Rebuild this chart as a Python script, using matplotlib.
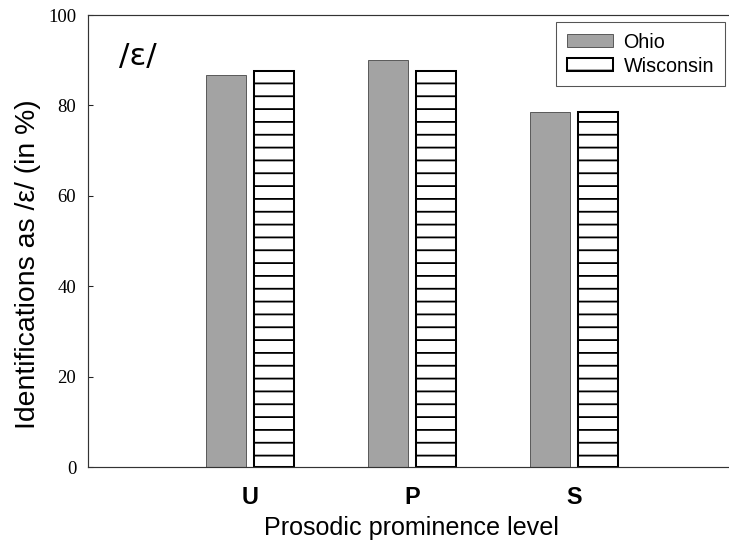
import matplotlib
matplotlib.use('Agg')
import matplotlib.pyplot as plt
import numpy as np

categories = ['U', 'P', 'S']
ohio = [86.8, 90.1, 78.6]
wisconsin = [87.7, 87.5, 78.6]
series_names = ['Ohio', 'Wisconsin']
y_ticks = [0, 20, 40, 60, 80, 100]
y_label = 'Identifications as /ε/ (in %)'
x_label = 'Prosodic prominence level'
panel_label = '/ε/'

DPI = 77
W, H = 729, 541
plt.rcParams['hatch.linewidth'] = 1.7
fig = plt.figure(figsize=(W / DPI, H / DPI), dpi=DPI)
ax = fig.add_axes([88 / W, 74 / H, 641 / W, 452 / H])

x = np.arange(1, len(categories) + 1)
w = 0.25
off = 0.148
ax.bar(x - off, ohio, w, color='#a3a3a3', edgecolor='#4a4a4a', linewidth=0.8,
       label=series_names[0], zorder=2)
ax.bar(x + off, wisconsin, w, color='white', edgecolor='black', linewidth=1.9,
       hatch='-', label=series_names[1], zorder=2)

ax.set_xlim(0, 641 / 162)
ax.set_ylim(0, 100)
ax.set_yticks(y_ticks)
ax.set_yticklabels([str(t) for t in y_ticks], family='Liberation Serif', fontsize=17.5)
ax.set_xticks(x)
ax.set_xticklabels(categories, family='Liberation Sans', fontweight='bold', fontsize=22)
ax.tick_params(axis='y', direction='in', length=5, width=1, pad=11, colors='#222222',
               labelcolor='black')
ax.tick_params(axis='x', length=0, pad=17.5, labelcolor='black')

for s in ['left', 'bottom', 'top']:
    ax.spines[s].set_color('#333333')
    ax.spines[s].set_linewidth(1.1)
ax.spines['right'].set_visible(False)

fig.text(28.5 / W, (H - 264.5) / H, y_label, rotation=90, ha='center', va='center',
         family='Liberation Sans', fontsize=26.5)
fig.text(411.5 / W, (H - 535) / H, x_label, ha='center', va='baseline',
         family='Liberation Sans', fontsize=23.5)
fig.text(119 / W, (H - 65.5) / H, panel_label, ha='left', va='baseline',
         family='DejaVu Sans', fontsize=29)

leg = ax.legend(loc='upper right', bbox_to_anchor=((725 - 88) / 641, (467 - 21.7) / 452),
                bbox_transform=ax.transAxes,
                prop={'family': 'Liberation Sans', 'size': 18.5},
                frameon=True, fancybox=False, edgecolor='#555555', framealpha=1,
                borderpad=0.55, handlelength=2.3, handleheight=0.66,
                handletextpad=0.55, labelspacing=0.25, borderaxespad=0)
leg.get_frame().set_linewidth(1.0)

fig.savefig('out.png', dpi=DPI)
